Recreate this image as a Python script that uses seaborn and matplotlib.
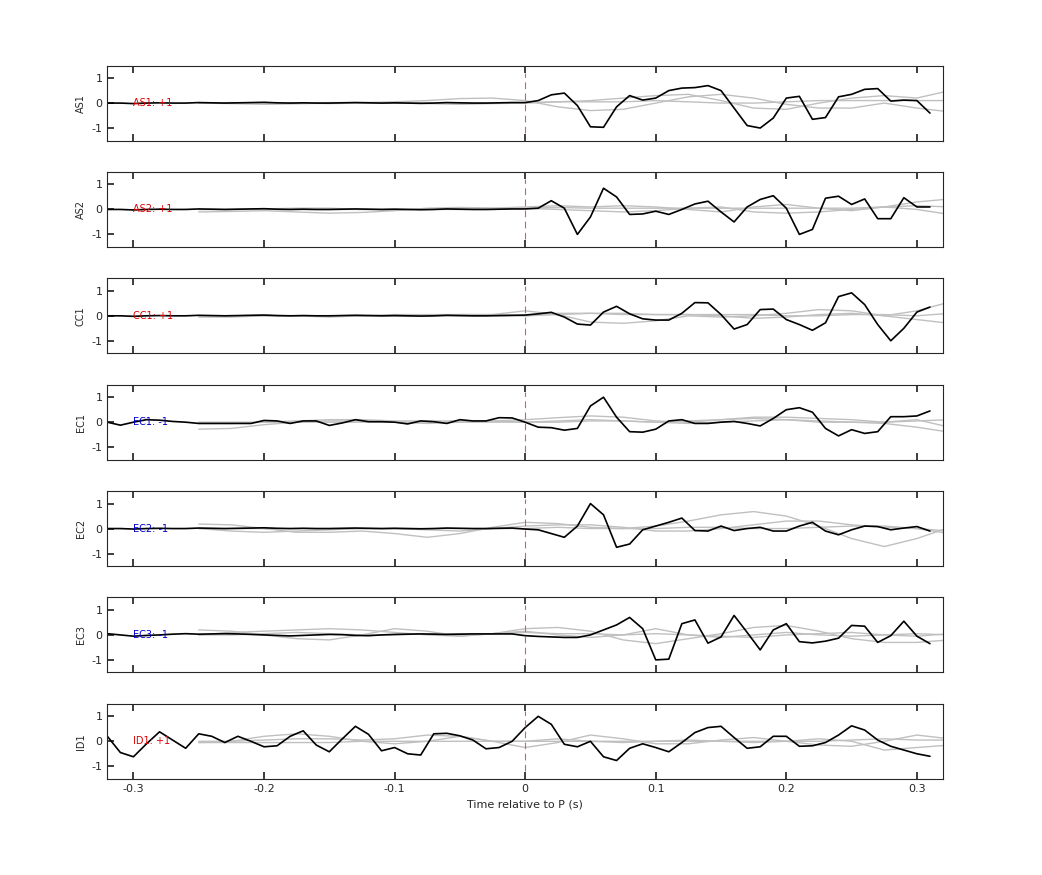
import numpy as np
import pandas as pd
import seaborn as sns
import matplotlib.pyplot as plt

# stations and polarity labels
stations = ["AS1", "AS2", "CC1", "EC1", "EC2", "EC3", "ID1"]
polarity = ["+1", "+1", "+1", "-1", "-1", "-1", "+1"]

# time axis of traces (s)
t = np.round(np.arange(-32, 32) * 0.01, 2)
t_gray = np.round(np.arange(-10, 14) * 0.025, 3)

quiet = [0.0, -0.02, 0.0, 0.01, 0.0, 0.0, 0.02, 0.01, 0.0, 0.01, 0.02, 0.03, 0.01, 0.0, 0.01, 0.0,
         0.0, 0.01, 0.02, 0.01, 0.0, 0.01, 0.0, -0.01, 0.0, 0.02, 0.01, 0.0, 0.0, 0.01, 0.02]

as1 = [0.0] + quiet + [0.02, 0.1, 0.33, 0.4, -0.1, -0.95, -0.97, -0.15, 0.3, 0.12, 0.2, 0.5, 0.6, 0.62, 0.7, 0.5,
                       -0.2, -0.9, -1.0, -0.6, 0.2, 0.27, -0.65, -0.58, 0.25, 0.35, 0.55, 0.58, 0.08, 0.12, 0.1, -0.4]
as2 = [0.0] + quiet + [0.02, 0.05, 0.35, 0.05, -1.0, -0.3, 0.85, 0.5, -0.2, -0.18, -0.07, -0.2, 0.0, 0.22, 0.33, -0.1,
                       -0.5, 0.1, 0.4, 0.55, 0.05, -1.0, -0.8, 0.45, 0.53, 0.2, 0.42, -0.37, -0.37, 0.47, 0.1, 0.1]
cc1 = [0.0] + quiet + [0.03, 0.08, 0.14, -0.05, -0.33, -0.37, 0.15, 0.38, 0.08, -0.12, -0.17, -0.17, 0.1, 0.53, 0.52, 0.05,
                       -0.53, -0.35, 0.25, 0.27, -0.15, -0.35, -0.58, -0.28, 0.77, 0.92, 0.45, -0.35, -1.0, -0.5, 0.15, 0.35]
ec1 = [0.0, -0.12, 0.0, 0.1, 0.08, 0.03, 0.0, -0.05, -0.05, -0.05, -0.05, -0.05, 0.07, 0.05, -0.05, 0.05,
       0.05, -0.13, -0.03, 0.1, 0.02, 0.02, 0.0, -0.07, 0.05, 0.02, -0.05, 0.1, 0.05, 0.05, 0.18, 0.17,
       0.0, -0.2, -0.22, -0.32, -0.25, 0.65, 1.0, 0.2, -0.38, -0.4, -0.28, 0.05, 0.1, -0.05, -0.05, 0.0,
       0.03, -0.05, -0.15, 0.15, 0.5, 0.58, 0.4, -0.25, -0.55, -0.3, -0.45, -0.38, 0.22, 0.22, 0.25, 0.45]
ec2 = [0.0] + quiet + [-0.02, -0.05, -0.2, -0.35, 0.1, 1.0, 0.55, -0.75, -0.62, -0.05, 0.1, 0.25, 0.42, -0.08, -0.1, 0.1,
                       -0.08, 0.0, 0.05, -0.1, -0.1, 0.1, 0.25, -0.1, -0.25, -0.05, 0.1, 0.08, -0.05, 0.02, 0.08, -0.1]
ec3 = [0.05, 0.0, -0.05, -0.02, 0.0, 0.03, 0.05, 0.03, 0.04, 0.05, 0.04, 0.02, 0.0, -0.02, -0.04, -0.02,
       0.0, 0.02, 0.01, -0.02, -0.03, 0.0, 0.02, 0.03, 0.04, 0.03, 0.02, 0.03, 0.04, 0.04, 0.04, 0.04,
       -0.03, -0.06, -0.08, -0.1, -0.1, 0.0, 0.2, 0.4, 0.7, 0.25, -1.0, -0.97, 0.45, 0.6, -0.33, -0.08,
       0.78, 0.1, -0.6, 0.2, 0.45, -0.27, -0.32, -0.25, -0.13, 0.38, 0.35, -0.3, -0.03, 0.55, -0.05, -0.35]
id1 = [0.2, -0.45, -0.62, -0.1, 0.38, 0.05, -0.28, 0.3, 0.2, -0.05, 0.2, 0.0, -0.22, -0.18, 0.2, 0.42,
       -0.15, -0.42, 0.1, 0.6, 0.28, -0.38, -0.25, -0.5, -0.55, 0.3, 0.32, 0.22, 0.05, -0.3, -0.25, 0.0,
       0.55, 1.0, 0.68, -0.12, -0.22, 0.0, -0.62, -0.77, -0.28, -0.1, -0.25, -0.42, -0.05, 0.35, 0.55, 0.6,
       0.15, -0.28, -0.22, 0.2, 0.2, -0.2, -0.18, -0.05, 0.25, 0.62, 0.45, 0.05, -0.2, -0.35, -0.5, -0.6]
black = [as1, as2, cc1, ec1, ec2, ec3, id1]

# gray comparison traces, sampled every 0.025 s from -0.25 s
gray = [
    [[0.0, -0.02, -0.05, -0.03, 0.0, 0.02, 0.05, 0.1, 0.18, 0.2, 0.1, -0.15, -0.3, -0.25, 0.0, 0.25, 0.35, 0.2, -0.05, -0.2, -0.2, 0.0, -0.2, -0.35],
     [0.0, 0.0, 0.02, 0.0, -0.02, 0.0, 0.0, -0.02, -0.05, -0.02, 0.0, 0.05, 0.1, 0.2, 0.3, 0.35, 0.1, -0.2, -0.25, 0.0, 0.2, 0.3, 0.2, 0.5],
     [0.0, 0.02, 0.0, 0.0, 0.02, 0.02, 0.0, 0.0, 0.0, 0.0, 0.02, 0.05, 0.05, 0.05, 0.1, 0.05, 0.0, 0.0, 0.05, 0.1, 0.1, 0.1, 0.1, 0.1]],
    [[-0.1, -0.08, -0.05, -0.1, -0.15, -0.12, -0.05, 0.05, 0.08, 0.05, 0.1, 0.15, 0.1, 0.15, 0.1, 0.0, -0.1, 0.1, 0.2, 0.05, -0.05, 0.1, 0.3, 0.42],
     [0.0, 0.0, 0.02, 0.05, 0.05, 0.0, 0.0, 0.0, 0.05, 0.05, 0.05, 0.0, -0.05, -0.1, -0.05, 0.05, 0.1, -0.1, -0.15, -0.1, 0.0, 0.1, 0.0, -0.2],
     [0.0, 0.0, 0.0, 0.0, 0.0, 0.0, 0.0, 0.0, 0.0, 0.0, 0.05, 0.08, 0.05, 0.05, 0.05, 0.05, 0.05, 0.05, 0.05, 0.05, 0.05, 0.1, 0.15, 0.1]],
    [[-0.05, -0.05, 0.0, 0.0, -0.05, 0.0, 0.05, 0.05, 0.05, 0.05, 0.2, 0.05, -0.25, -0.3, -0.2, 0.0, -0.05, 0.0, 0.1, 0.25, 0.2, 0.0, -0.15, -0.3],
     [0.0, 0.0, 0.02, 0.0, 0.0, 0.02, 0.0, 0.0, 0.05, 0.05, 0.0, 0.05, 0.1, 0.1, 0.05, 0.05, 0.0, -0.1, -0.05, 0.05, 0.1, 0.0, 0.2, 0.55],
     [0.0, 0.0, 0.0, 0.0, 0.0, 0.0, 0.0, 0.0, 0.0, 0.0, 0.0, 0.1, 0.1, 0.05, 0.05, 0.05, 0.05, 0.05, 0.0, 0.0, 0.05, 0.05, 0.0, 0.1]],
    [[-0.28, -0.25, -0.1, 0.0, 0.05, 0.05, 0.0, -0.05, 0.0, 0.05, 0.1, 0.18, 0.25, 0.2, 0.05, 0.0, 0.1, 0.15, 0.1, 0.0, 0.0, -0.05, -0.2, -0.4],
     [-0.05, -0.05, 0.0, 0.05, 0.1, 0.1, 0.05, 0.05, 0.05, 0.05, 0.0, 0.05, 0.1, 0.05, 0.0, 0.05, 0.1, 0.2, 0.2, 0.15, 0.1, 0.0, 0.1, -0.2],
     [0.0, 0.0, 0.0, 0.0, 0.0, 0.0, 0.0, 0.0, 0.0, 0.0, 0.0, 0.0, 0.05, 0.05, 0.0, -0.05, 0.0, 0.05, 0.1, 0.05, 0.0, 0.0, 0.05, 0.1]],
    [[0.18, 0.15, 0.0, -0.15, -0.15, -0.1, -0.2, -0.35, -0.2, 0.05, 0.25, 0.2, 0.05, 0.0, 0.1, 0.3, 0.55, 0.68, 0.5, 0.1, -0.4, -0.72, -0.4, 0.05],
     [0.0, -0.1, -0.15, -0.1, -0.05, 0.0, 0.0, -0.05, -0.1, 0.0, 0.1, 0.15, 0.15, 0.05, -0.1, -0.1, 0.0, 0.15, 0.3, 0.3, 0.15, 0.05, 0.0, -0.2],
     [0.0, 0.0, 0.0, 0.0, 0.0, 0.0, 0.0, 0.0, 0.0, 0.0, 0.0, 0.05, 0.0, 0.0, 0.0, 0.05, 0.05, 0.0, 0.0, 0.05, 0.1, 0.1, 0.0, -0.1]],
    [[0.2, 0.15, 0.0, -0.15, -0.2, 0.0, 0.25, 0.15, -0.05, 0.05, 0.25, 0.3, 0.15, -0.2, -0.35, -0.15, 0.05, 0.3, 0.38, 0.15, -0.15, -0.3, -0.3, -0.2],
     [0.0, 0.1, 0.15, 0.2, 0.25, 0.2, 0.1, 0.0, -0.05, 0.05, 0.15, 0.0, -0.1, 0.0, 0.25, 0.0, -0.1, 0.0, 0.1, 0.0, -0.05, 0.0, 0.05, 0.0],
     [0.0, 0.0, 0.05, 0.1, 0.05, 0.0, 0.0, 0.05, 0.05, 0.05, 0.1, 0.05, 0.05, 0.0, 0.05, 0.0, -0.05, -0.1, 0.0, 0.05, 0.1, 0.0, -0.05, 0.05]],
    [[-0.05, 0.0, 0.2, 0.3, 0.2, 0.0, -0.1, 0.0, 0.2, 0.0, -0.25, -0.05, 0.25, 0.1, -0.1, -0.1, 0.05, 0.15, 0.0, -0.15, -0.2, 0.0, 0.25, 0.1],
     [0.0, 0.0, 0.05, 0.1, 0.1, 0.05, 0.1, 0.25, 0.2, 0.0, 0.0, 0.1, 0.0, -0.05, 0.0, 0.05, 0.0, -0.05, 0.0, 0.1, 0.0, -0.35, -0.25, -0.15],
     [-0.05, -0.05, -0.05, -0.05, -0.05, 0.0, 0.0, 0.0, 0.0, 0.0, 0.0, 0.0, 0.0, 0.0, 0.0, 0.0, 0.0, 0.0, 0.0, 0.0, 0.05, 0.1, 0.05, 0.05]],
]

sns.set_theme(style="ticks")
plt.rcParams['font.family'] = ['DejaVu Sans']
plt.rcParams['axes.unicode_minus'] = False
fig, axes = plt.subplots(7, 1, figsize=(10.42, 8.75), dpi=100, sharex=True)
fig.subplots_adjust(left=0.103, right=0.905, top=0.925, bottom=0.11, hspace=0.42)

for i, ax in enumerate(axes):
    for g in gray[i]:
        sns.lineplot(x=t_gray, y=g, ax=ax, color="#c0c0c0", lw=1.0)
    sns.lineplot(x=t, y=black[i], ax=ax, color="black", lw=1.2)
    ax.axvline(0, ymin=0.1, ymax=0.9, color="#d06060", lw=0.8, ls=(0, (6, 4)))
    col = "#dd0000" if polarity[i] == "+1" else "#0000cc"
    ax.text(-0.3, 0, f"{stations[i]}: {polarity[i]}", color=col, fontsize=7, va="center")
    ax.set_xlim(-0.32, 0.32)
    ax.set_ylim(-1.5, 1.5)
    ax.set_yticks([-1, 0, 1])
    ax.set_ylabel(stations[i], fontsize=7)
    ax.tick_params(direction="in", top=True, labelsize=8, length=5)
    for s in ax.spines.values():
        s.set_visible(True)
        s.set_linewidth(0.8)

axes[-1].set_xticks([-0.3, -0.2, -0.1, 0, 0.1, 0.2, 0.3])
axes[-1].set_xticklabels(["-0.3", "-0.2", "-0.1", "0", "0.1", "0.2", "0.3"])
axes[-1].set_xlabel("Time relative to P (s)", fontsize=8)
fig.savefig("out.png")
